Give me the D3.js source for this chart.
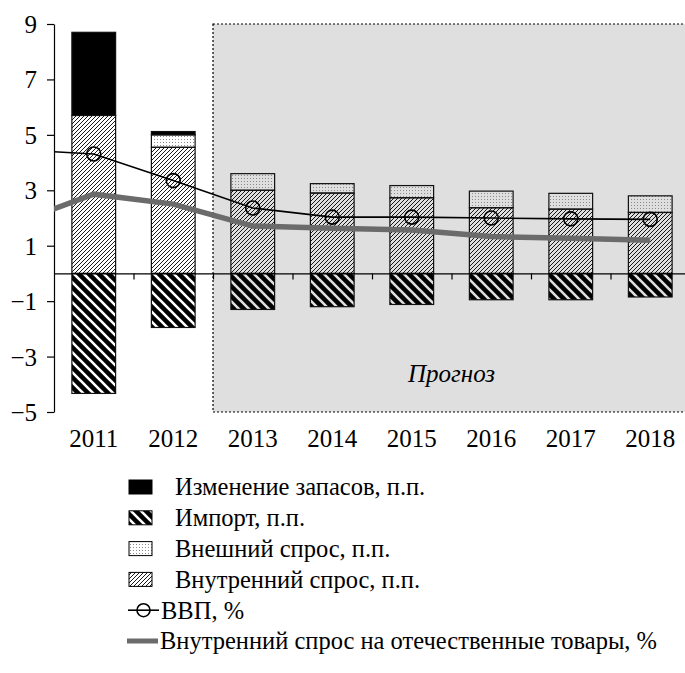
<!DOCTYPE html>
<html><head><meta charset="utf-8">
<script src="https://cdn.jsdelivr.net/npm/d3@7"></script>
<style>
html,body{margin:0;padding:0;background:#fff;}
svg{display:block;font-family:"Liberation Serif","Times New Roman",serif;}
</style></head>
<body><svg id="c" width="685" height="673"></svg>
<script>
// ---- data ----
const years = [2011, 2012, 2013, 2014, 2015, 2016, 2017, 2018];
const domestic = [5.7, 4.55, 3.0, 2.9, 2.73, 2.37, 2.32, 2.2];
const external = [0, 0.45, 0.6, 0.34, 0.44, 0.6, 0.57, 0.6];
const stocks = [3.0, 0.12, 0, 0, 0, 0, 0, 0];
const imports = [-4.33, -1.95, -1.3, -1.2, -1.12, -0.95, -0.95, -0.85];
const lineYears = [2010, 2011, 2012, 2013, 2014, 2015, 2016, 2017, 2018];
const gdp = [4.47, 4.31, 3.35, 2.36, 2.03, 2.03, 2.0, 1.97, 1.95];
const domGoods = [1.8, 2.86, 2.5, 1.71, 1.63, 1.57, 1.33, 1.27, 1.2];
const yTicks = [9, 7, 5, 3, 1, -1, -3, -5];
const forecastStart = 2013;
const forecastLabel = "Прогноз";
const legendItems = [
  {type: "stock", label: "Изменение запасов, п.п."},
  {type: "import", label: "Импорт, п.п."},
  {type: "external", label: "Внешний спрос, п.п."},
  {type: "domestic", label: "Внутренний спрос, п.п."},
  {type: "gdp", label: "ВВП, %"},
  {type: "goods", label: "Внутренний спрос на отечественные товары, %"}
];

// ---- layout ----
const svg = d3.select("#c");
const pL = 54, pR = 690, pT = 24, pB = 412;
const x = d3.scaleLinear().domain([years[0] - 0.5, years[years.length - 1] + 0.5]).range([pL, pR]);
const y = d3.scaleLinear().domain([-5, 9]).range([pB, pT]);
const step = x(years[0] + 1) - x(years[0]);
const bw = step * 0.55;
const FS = 25, LFS = 24.5;

// ---- patterns ----
const defs = svg.append("defs");
const pd = defs.append("pattern").attr("id", "pDom").attr("patternUnits", "userSpaceOnUse")
  .attr("width", 4).attr("height", 4);
pd.append("path").attr("d", "M-1,1 L1,-1 M0,4 L4,0 M3,5 L5,3").attr("stroke", "#000").attr("stroke-width", 0.9);
const pi = defs.append("pattern").attr("id", "pImp").attr("patternUnits", "userSpaceOnUse")
  .attr("width", 10).attr("height", 10);
pi.append("rect").attr("width", 10).attr("height", 10).attr("fill", "#000");
pi.append("path").attr("d", "M-2,-2 L12,12 M-2,8 L2,12 M8,-2 L12,2").attr("stroke", "#fff").attr("stroke-width", 2.6).attr("fill", "none");
const pe = defs.append("pattern").attr("id", "pExt").attr("patternUnits", "userSpaceOnUse")
  .attr("width", 3).attr("height", 3);
pe.append("rect").attr("x", 1).attr("y", 1).attr("width", 1).attr("height", 1).attr("fill", "#8a8a8a");

const mask = defs.append("mask").attr("id", "impMask").attr("maskUnits", "userSpaceOnUse")
  .attr("x", 0).attr("y", 0).attr("width", 685).attr("height", 673);
const mpat = defs.append("pattern").attr("id", "pMask").attr("patternUnits", "userSpaceOnUse")
  .attr("width", 10).attr("height", 10);
mpat.append("rect").attr("width", 10).attr("height", 10).attr("fill", "#fff");
mpat.append("path").attr("d", "M-2,-2 L12,12 M-2,8 L2,12 M8,-2 L12,2").attr("stroke", "#000").attr("stroke-width", 2.6);
mask.append("rect").attr("width", 685).attr("height", 673).attr("fill", "url(#pMask)");

defs.append("clipPath").attr("id", "plotClip").append("rect")
  .attr("x", pL).attr("y", 0).attr("width", 685 - pL).attr("height", 673);

// ---- forecast box ----
svg.append("rect")
  .attr("x", x(forecastStart - 0.5)).attr("y", y(9))
  .attr("width", 700 - x(forecastStart - 0.5)).attr("height", y(-5) - y(9))
  .attr("fill", "#dfdfdf").attr("stroke", "#000").attr("stroke-width", 1.2)
  .attr("stroke-dasharray", "2,2");

// ---- bars ----
const data = years.map((yr, i) => ({yr, dom: domestic[i], ext: external[i], st: stocks[i], imp: imports[i]}));
const gB = svg.append("g");
data.forEach(d => {
  const bx = x(d.yr) - bw / 2;
  const segs = [
    {y0: 0, y1: d.dom, fill: "url(#pDom)"},
    {y0: d.dom, y1: d.dom + d.ext, fill: "url(#pExt)"},
    {y0: d.dom + d.ext, y1: d.dom + d.ext + d.st, fill: "#000"}
  ];
  segs.forEach(s => {
    if (s.y1 - s.y0 <= 0) return;
    gB.append("rect").attr("x", bx).attr("width", bw)
      .attr("y", y(s.y1)).attr("height", y(s.y0) - y(s.y1))
      .attr("fill", s.fill).attr("stroke", "#111").attr("stroke-width", 1.2);
  });
  gB.append("rect").attr("x", bx).attr("width", bw)
    .attr("y", y(0)).attr("height", y(d.imp) - y(0))
    .attr("fill", "#000").attr("mask", "url(#impMask)");
  gB.append("rect").attr("x", bx).attr("width", bw)
    .attr("y", y(0)).attr("height", y(d.imp) - y(0))
    .attr("fill", "none").attr("stroke", "#111").attr("stroke-width", 1.2);
});

// ---- axes ----
const yAxis = d3.axisLeft(y).tickValues(yTicks).tickSize(7).tickSizeOuter(0)
  .tickFormat(v => (v < 0 ? "\u2212" + Math.abs(v) : String(v)));
const gy = svg.append("g").attr("transform", `translate(${pL},0)`).call(yAxis);
gy.select(".domain").attr("stroke", "#000").attr("stroke-width", 1.2);
gy.selectAll(".tick line").attr("stroke", "#000").attr("stroke-width", 1.2);
gy.selectAll(".tick text").attr("font-family", "Liberation Serif").attr("font-size", FS)
  .attr("fill", "#000").attr("x", -17).attr("dy", "0.34em");

const bounds = d3.range(years[0] + 0.5, years[years.length - 1] + 0.5, 1);
const xAxis = d3.axisBottom(x).tickValues(bounds).tickSize(6).tickSizeOuter(0).tickFormat("");
const gx = svg.append("g").attr("transform", `translate(0,${y(0)})`).call(xAxis);
gx.select(".domain").attr("stroke", "#000").attr("stroke-width", 1.2);
gx.selectAll(".tick line").attr("stroke", "#000").attr("stroke-width", 1.2);

svg.append("g").selectAll("text").data(years).join("text")
  .attr("x", d => x(d)).attr("y", y(-5) + 26)
  .attr("dy", "0.34em")
  .attr("text-anchor", "middle").attr("font-size", FS).attr("fill", "#000")
  .text(d => d);

// ---- lines ----
const gL = svg.append("g").attr("clip-path", "url(#plotClip)");
const line = d3.line().x(d => x(d[0])).y(d => y(d[1]));
gL.append("path").datum(lineYears.map((yr, i) => [yr, domGoods[i]]))
  .attr("d", line).attr("fill", "none").attr("stroke", "#6b6b6b").attr("stroke-width", 5.5);
gL.append("path").datum(lineYears.map((yr, i) => [yr, gdp[i]]))
  .attr("d", line).attr("fill", "none").attr("stroke", "#000").attr("stroke-width", 1.6);
gL.selectAll("circle").data(lineYears.map((yr, i) => [yr, gdp[i]]).filter(d => d[0] >= years[0]))
  .join("circle").attr("cx", d => x(d[0])).attr("cy", d => y(d[1])).attr("r", 7)
  .attr("fill", "none").attr("stroke", "#000").attr("stroke-width", 1.6);

svg.append("text").attr("x", x(2015.5)).attr("y", y(-3.6)).attr("dy", "0.34em")
  .attr("text-anchor", "middle").attr("font-style", "italic").attr("font-size", FS)
  .text(forecastLabel);

// ---- legend ----
const lg = svg.append("g");
const rowY0 = 487, rowStep = 30.8;
legendItems.forEach((it, i) => {
  const cy = rowY0 + i * rowStep;
  const g = lg.append("g");
  let tx = 175;
  if (it.type === "stock" || it.type === "import" || it.type === "external" || it.type === "domestic") {
    const fill = {stock: "#000", import: "url(#pImp)", external: "url(#pExt)", domestic: "url(#pDom)"}[it.type];
    g.append("rect").attr("x", 129).attr("y", cy - 7).attr("width", 23).attr("height", 14)
      .attr("fill", fill).attr("stroke", "#000").attr("stroke-width", 1);
  } else if (it.type === "gdp") {
    g.append("line").attr("x1", 128).attr("x2", 159).attr("y1", cy).attr("y2", cy)
      .attr("stroke", "#000").attr("stroke-width", 1.6);
    g.append("circle").attr("cx", 143.5).attr("cy", cy).attr("r", 6.5)
      .attr("fill", "#fff").attr("stroke", "#000").attr("stroke-width", 1.6);
    g.append("line").attr("x1", 137).attr("x2", 150).attr("y1", cy).attr("y2", cy)
      .attr("stroke", "#000").attr("stroke-width", 1.6);
    tx = 161;
  } else {
    g.append("line").attr("x1", 127).attr("x2", 158).attr("y1", cy).attr("y2", cy)
      .attr("stroke", "#6b6b6b").attr("stroke-width", 5);
    tx = 160;
  }
  g.append("text").attr("x", tx).attr("y", cy).attr("dy", "0.34em")
    .attr("font-size", LFS).attr("fill", "#000").text(it.label);
});
</script>
</body></html>
